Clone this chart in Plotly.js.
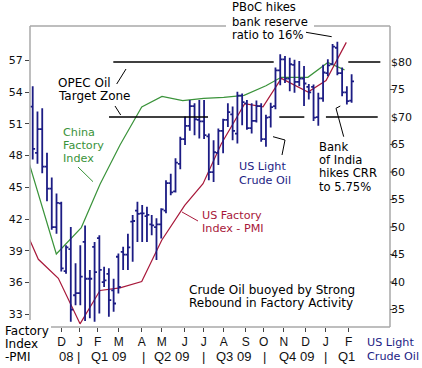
<!DOCTYPE html>
<html><head><meta charset="utf-8">
<script src="https://cdn.plot.ly/plotly-3.0.1.min.js"></script>
<style>html,body{margin:0;padding:0;background:#fff;}#chart{width:422px;height:368px;}</style>
</head><body><div id="chart"></div>
<script>
// Weekly US light crude oil bars (week index 0 = week of 20 Oct 2008), $/bbl
const crudeOpen  = [71.9,63.5,67.8,61.0,57.0,50.0,54.3,42.0,46.0,37.6,38.0,47.3,40.6,46.4,48.0,40.0,41.5,38.5,44.6,45.5,45.0,51.0,53.0,52.5,52.0,50.5,50.0,50.5,53.0,58.0,56.5,61.5,66.0,68.4,72.0,69.5,69.2,66.5,60.0,63.5,67.5,69.5,70.5,67.0,73.9,72.5,68.0,69.3,72.0,66.0,70.0,72.0,78.5,80.5,77.0,79.5,76.4,77.0,75.5,75.5,70.0,73.4,78.0,79.6,82.6,78.0,74.5,73.0];
const crudeHigh  = [75.6,71.0,71.6,63.5,59.0,56.1,54.6,46.7,50.0,43.4,46.7,50.3,42.2,47.3,48.5,42.8,42.5,40.6,45.2,46.4,48.8,52.2,54.6,54.0,53.7,52.2,51.6,53.4,58.5,59.7,62.5,66.4,70.1,73.1,72.5,73.1,73.1,67.0,65.8,67.9,69.7,72.5,71.9,74.6,74.3,73.1,72.5,73.0,72.5,70.4,72.6,79.0,81.4,81.1,80.8,80.4,80.2,79.3,76.0,75.9,74.4,79.5,80.5,83.3,83.7,79.0,75.6,77.8];
const crudeLow   = [62.3,61.5,59.8,54.7,49.5,48.8,41.9,41.5,32.8,35.8,35.8,32.9,33.4,32.8,34.3,39.1,33.7,34.6,37.9,42.2,42.2,43.7,47.3,47.3,47.3,48.5,44.0,47.9,52.5,55.8,56.3,60.5,64.9,67.5,66.7,66.1,66.0,58.5,58.2,61.3,63.4,68.2,65.8,65.2,68.5,67.7,67.0,69.0,65.5,64.6,68.1,71.4,75.8,76.2,74.7,74.4,75.6,72.0,73.2,69.3,68.4,72.8,77.4,79.5,77.6,73.8,72.3,72.6];
const crudeClose = [64.2,67.8,61.0,57.0,50.0,54.4,42.5,46.3,35.0,38.0,41.0,40.6,40.6,41.8,42.2,40.3,36.7,36.1,39.1,45.0,46.3,51.1,52.4,52.5,52.2,50.3,50.5,53.2,58.0,56.3,61.7,66.0,68.4,72.0,69.6,69.2,66.7,60.0,63.6,67.5,69.5,70.9,67.5,73.9,72.7,68.0,69.3,72.0,66.0,69.9,71.8,78.5,80.5,77.0,79.6,76.4,77.0,76.1,74.5,69.9,73.4,78.1,79.4,82.8,78.0,74.5,72.9,76.5];
const crudeWeeks = crudeOpen.map((_, i) => i);

// Month tick labels and their week positions
const monthLabels = ['D','J','F','M','A','M','J','J','A','S','O','N','D','J','F'];
const monthTickWeeks = [6.09,9.87,13.66,18.07,22.90,27.10,31.93,35.92,40.13,44.75,48.53,52.73,57.35,61.55,66.39];
const quarterLabels = ['08','|','Q1 09','|','Q2 09','|','Q3 09','|','Q4 09','|','Q1'];

// China factory index (release week, value)
const chinaWeeks = [-2.56,1.79,4.96,10.21,14.14,18.34,22.90,27.16,31.51,35.92,40.13,44.40,49.00,52.20,57.80,62.00,65.50];
const chinaPMI   = [50.0,43.5,38.7,41.2,45.3,49.0,52.6,53.6,53.2,53.4,53.5,53.7,54.6,55.4,55.4,56.8,56.1];

// US factory index - PMI (release week, value)
const usWeeks = [-2.56,1.18,5.38,9.94,14.14,18.34,22.90,27.10,31.93,35.78,39.60,44.54,48.38,52.23,57.84,61.62,65.88];
const usPMI   = [42.0,38.2,36.4,32.1,35.25,35.5,36.1,40.0,43.3,45.35,49.1,52.9,52.6,55.3,54.0,55.1,58.7];

const leftTicks = [33,36,39,42,45,48,51,54,57];
const rightTicks = [35,40,45,50,55,60,65,70,75,80];
const rightLabels = ['35','40','45','50','55','60','65','$70','75','$80'];
const opecLevels = [70, 80];

// ---- layout helpers (pixel -> paper) ----
const L = 30, R = 390, T = 26, B = 327;
const px = x => (x - L) / (R - L);
const py = y => (B - y) / (B - T);

const navy = '#1c1c84', green = '#3a933a', red = '#a8183a', frame = '#a9a9a9';

const traces = [
  {type:'ohlc', x: crudeWeeks, open: crudeOpen, high: crudeHigh, low: crudeLow, close: crudeClose,
   yaxis:'y2', tickwidth:0.5,
   increasing:{line:{color:navy, width:1.8}}, decreasing:{line:{color:navy, width:1.8}},
   hoverinfo:'skip', showlegend:false},
  {type:'scatter', mode:'lines', x: chinaWeeks, y: chinaPMI, line:{color:green, width:1.2}, showlegend:false, hoverinfo:'skip'},
  {type:'scatter', mode:'lines', x: usWeeks, y: usPMI, line:{color:red, width:1.2}, showlegend:false, hoverinfo:'skip'}
];

const shapes = [];
function seg(x0,y0,x1,y1,color,w){shapes.push({type:'line',xref:'paper',yref:'paper',x0:px(x0),y0:py(y0),x1:px(x1),y1:py(y1),line:{color:color,width:w}});}
// frame
seg(30,26,30,320,frame,1.5);
seg(390,26,390,327,frame,1.5);
seg(51,327,390,327,frame,1.5);
seg(30,26,226,26,frame,1.5);
seg(314,26,390,26,frame,1.5);
// right-axis tick dashes (the $ labels carry none)
rightTicks.forEach((v,i)=>{ if (rightLabels[i].charAt(0) !== '$') shapes.push({type:'line',xref:'paper',yref:'y2',x0:1,x1:px(394),y0:v,y1:v,line:{color:'#444',width:1}}); });
// OPEC target zone lines
const opecSegs = {70: [[16.03,36.83],[51.8,57.06],[61.6,72.48]], 80: [[16.93,50.63],[66.3,73.03]]};
opecLevels.forEach(lv => opecSegs[lv].forEach(s => shapes.push({type:'line',xref:'x',yref:'y2',x0:s[0],x1:s[1],y0:lv,y1:lv,line:{color:'#000',width:1.5}})));
// leader lines
seg(116.7,84,126,69,'#000',1);
seg(115,106,120.7,115,'#000',1);
seg(78,167,93,181.7,green,1);
seg(282,155,285,140,'#000',1);
seg(285,140,273,136.7,'#000',1);
seg(343.7,136.7,336,108.3,'#000',1);
seg(336,108.3,340.3,106,'#000',1);
seg(306,32.3,331.7,36.7,'#000',1);
seg(182,212,198,221,red,1);

const annotations = [];
function txt(t,x,y,color,size,fam,anchor){annotations.push({text:t,xref:'paper',yref:'paper',x:px(x),y:py(y),xanchor:anchor||'left',yanchor:'middle',showarrow:false,font:{family:fam||'DejaVu Sans',size:size||12,color:color||'#000'}});}
txt('OPEC Oil',56,83);
txt('Target Zone',56,96);
txt('China',61,132.5,green,11.2);
txt('Factory',61,145.5,green,11.2);
txt('Index',61,158.5,green,11.2);
txt('US Light',236.5,166.7,navy,11.2);
txt('Crude Oil',236.5,180,navy,11.2);
txt('Bank',317,146.7,'#000',11.6);
txt('of India',317,160,'#000',11.6);
txt('hikes CRR',317,173.3,'#000',11.6);
txt('to 5.75%',317,186.5,'#000',11.6);
txt('PBoC hikes',229.5,7.5,'#000',11.6);
txt('bank reserve',229.5,21.5,'#000',11.6);
txt('ratio to 16%',229.5,34.5,'#000',11.6);
txt('US Factory',199.5,215.3,red,11.2);
txt('Index - PMI',199.5,228.8,red,11.2);
txt('Crude Oil buoyed by Strong',187,290);
txt('Rebound in Factory Activity',187,303);
txt('Factory',3,330.7);
txt('Index',3,344);
txt('-PMI',3,357.3);
txt('US Light',364.5,343,navy,11.2);
txt('Crude Oil',364.5,356.3,navy,11.2);
const quarterX = [66.3,78,108,143,171.3,203,233,264.7,296.3,325.7,346.3];
quarterLabels.forEach((q,i)=>txt(q,quarterX[i],356.7,'#111',13,'Liberation Sans','center'));

const layout = {
  width:422, height:368, margin:{l:L, r:422-R, t:T, b:368-B, pad:0},
  paper_bgcolor:'#fff', plot_bgcolor:'#fff', showlegend:false,
  xaxis:{range:[-0.57,75.06], tickmode:'array', tickvals:monthTickWeeks, ticktext:monthLabels,
         ticks:'outside', ticklen:4, tickcolor:'#444', showgrid:false, zeroline:false, showline:false,
         rangeslider:{visible:false}, tickfont:{family:'Liberation Sans', size:12, color:'#111'}, fixedrange:true},
  yaxis:{range:[31.8,60.25], tickmode:'array', tickvals:leftTicks, ticks:'outside', ticklen:4, tickcolor:'#444',
         showgrid:false, zeroline:false, showline:false, tickfont:{family:'DejaVu Sans', size:11, color:'#111'}, fixedrange:true},
  yaxis2:{range:[31.83,86.55], overlaying:'y', side:'right', tickmode:'array', tickvals:rightTicks, ticktext:rightLabels,
          ticks:'', showgrid:false, zeroline:false, showline:false,
          tickfont:{family:'DejaVu Sans', size:11, color:'#111'}, fixedrange:true},
  shapes: shapes, annotations: annotations
};
Plotly.newPlot('chart', traces, layout, {staticPlot:true, displayModeBar:false});
</script></body></html>
